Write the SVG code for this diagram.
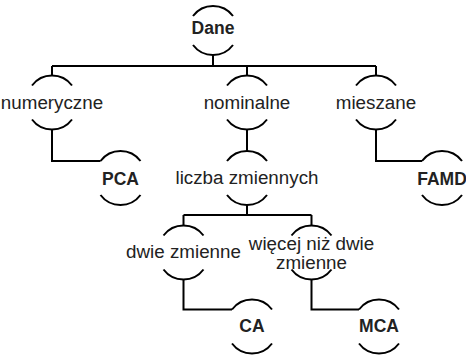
<svg xmlns="http://www.w3.org/2000/svg" xmlns:xlink="http://www.w3.org/1999/xlink" width="466" height="357" viewBox="0 0 466 357">
<style>
.ring{fill:none;stroke:#000;stroke-width:2}
.conn path{fill:none;stroke:#000;stroke-width:2}
text{font-family:"Liberation Sans",Arial,sans-serif;font-size:18.8px;fill:#222;text-anchor:middle}
.b{font-weight:bold;font-size:17.5px}
</style>
<defs>
<path id="ring" class="ring" d="M-20,-17 A25,25 0 0 1 20,-17 M-20,17 A25,25 0 0 0 20,17"/>
<path id="ringS" class="ring" d="M-20,-14.5 A25,25 0 0 1 20,-14.5 M-20,14.5 A25,25 0 0 0 20,14.5"/>
</defs>
<rect width="466" height="357" fill="#fff"/>
<g id="connectors" class="conn">
<path d="M213,55 V66"/>
<path d="M52,66 H376"/>
<path d="M52,66 V75.5 M247,66 V75.5 M376,66 V75.5"/>
<path d="M52,129.5 V161 H100.5"/>
<path d="M247,129.5 V151"/>
<path d="M376,129.5 V161 H422"/>
<path d="M247,205 V215"/>
<path d="M183.5,215 H311.5"/>
<path d="M183.5,215 V225.5 M311.5,215 V225.5"/>
<path d="M183.5,279.5 V309.5 H232"/>
<path d="M311.5,279.5 V309.5 H359"/>
</g>
<g id="dane"><use xlink:href="#ringS" x="213" y="30.5"/><text class="b" x="213" y="34">Dane</text></g>
<g id="numeryczne"><use xlink:href="#ring" x="52" y="102.5"/><text x="52" y="108.5">numeryczne</text></g>
<g id="nominalne"><use xlink:href="#ring" x="247" y="102.5"/><text x="247" y="108.5">nominalne</text></g>
<g id="mieszane"><use xlink:href="#ring" x="376" y="102.5"/><text x="376" y="108.5">mieszane</text></g>
<g id="pca"><use xlink:href="#ring" x="120.5" y="178"/><text class="b" x="120.5" y="185">PCA</text></g>
<g id="liczba"><use xlink:href="#ring" x="247" y="178"/><text x="247" y="183.5">liczba zmiennych</text></g>
<g id="famd"><use xlink:href="#ring" x="442" y="178"/><text class="b" x="442" y="185">FAMD</text></g>
<g id="dwie"><use xlink:href="#ring" x="183.5" y="252.5"/><text x="183.5" y="258">dwie zmienne</text></g>
<g id="wiecej"><use xlink:href="#ring" x="311.5" y="252.5"/><text x="311.5" y="250">więcej niż dwie</text><text x="311.5" y="269">zmienne</text></g>
<g id="ca"><use xlink:href="#ring" x="252" y="326.5"/><text class="b" x="252" y="332">CA</text></g>
<g id="mca"><use xlink:href="#ring" x="379" y="326.5"/><text class="b" x="379" y="332">MCA</text></g>
</svg>
